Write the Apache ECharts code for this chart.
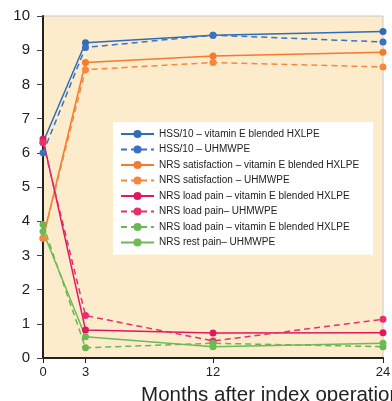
<!DOCTYPE html>
<html><head><meta charset="utf-8">
<script src="https://cdn.jsdelivr.net/npm/echarts@6/dist/echarts.min.js"></script>
<style>html,body{margin:0;padding:0;background:#fff}#c{width:392px;height:401px}</style>
</head><body><div id="c"></div>
<script>
const months = [0, 3, 12, 24];
const xTicks = [0, 3, 12, 24];
const seriesNames = [
  'HSS/10 – vitamin E blended HXLPE',
  'HSS/10 – UHMWPE',
  'NRS satisfaction – vitamin E blended HXLPE',
  'NRS satisfaction – UHMWPE',
  'NRS load pain – vitamin E blended HXLPE',
  'NRS load pain– UHMWPE',
  'NRS load pain – vitamin E blended HXLPE ',
  'NRS rest pain– UHMWPE'
];
const hssVitE = [6.3, 9.22, 9.44, 9.55];
const hssUhmwpe = [6.0, 9.08, 9.44, 9.24];
const satVitE = [3.5, 8.64, 8.83, 8.94];
const satUhmwpe = [3.5, 8.43, 8.64, 8.51];
const loadVitE = [6.4, 0.82, 0.73, 0.74];
const loadUhmwpe = [6.3, 1.24, 0.5, 1.13];
const loadVitEGreen = [3.9, 0.3, 0.43, 0.33];
const restUhmwpe = [3.7, 0.62, 0.33, 0.43];

const values = [hssVitE, hssUhmwpe, satVitE, satUhmwpe, loadVitE, loadUhmwpe, loadVitEGreen, restUhmwpe];
const colors = ['#2f6db8', '#3a72c2', '#f47a2e', '#f5873e', '#e0185c', '#e6306e', '#6ab64f', '#6dba56'];
const dashed = [false, true, false, true, false, true, true, false];

const chart = echarts.init(document.getElementById('c'));
chart.setOption({
  animation: false,
  grid: { left: 43, right: 9, top: 16, bottom: 43, show: true, backgroundColor: '#fdeccb', borderColor: '#c8c8c8', borderWidth: 1, containLabel: false, outerBoundsMode: 'none' },
  legend: {
    orient: 'vertical', left: 113, top: 122,
    backgroundColor: '#ffffff', padding: [6, 14, 6, 7],
    itemWidth: 33, itemHeight: 10, itemGap: 3.5,
    textStyle: { fontSize: 10, color: '#222', fontFamily: 'Liberation Sans, Arial, sans-serif', lineHeight: 12 },
    data: seriesNames
  },
  xAxis: {
    type: 'value', min: 0, max: 24,
    name: 'Months after index operation', nameLocation: 'middle', nameGap: 27,
    nameTextStyle: { fontSize: 20.5, color: '#222', fontFamily: 'Liberation Sans, Arial, sans-serif', padding: [0, 0, 0, 116] },
    axisLine: { show: true, lineStyle: { color: '#222', width: 2 } },
    axisTick: { show: true, length: 5, lineStyle: { color: '#222' }, customValues: xTicks },
    axisLabel: { fontSize: 13, color: '#222', margin: 8, customValues: xTicks, fontFamily: 'Liberation Sans, Arial, sans-serif' },
    splitLine: { show: false }
  },
  yAxis: {
    type: 'value', min: 0, max: 10, interval: 1,
    axisLine: { show: true, lineStyle: { color: '#222', width: 2 } },
    axisTick: { show: true, length: 6, lineStyle: { color: '#444' } },
    axisLabel: { fontSize: 15, color: '#222', margin: 13, fontFamily: 'Liberation Sans, Arial, sans-serif' },
    splitLine: { show: false }
  },
  series: seriesNames.map((n, i) => ({
    name: n, type: 'line',
    data: months.map((m, j) => [m, values[i][j]]),
    symbol: 'circle', symbolSize: 7,
    itemStyle: { color: colors[i] },
    lineStyle: { color: colors[i], width: 1.5, type: dashed[i] ? [6, 4] : 'solid' },
    z: 2
  }))
});
</script></body></html>
